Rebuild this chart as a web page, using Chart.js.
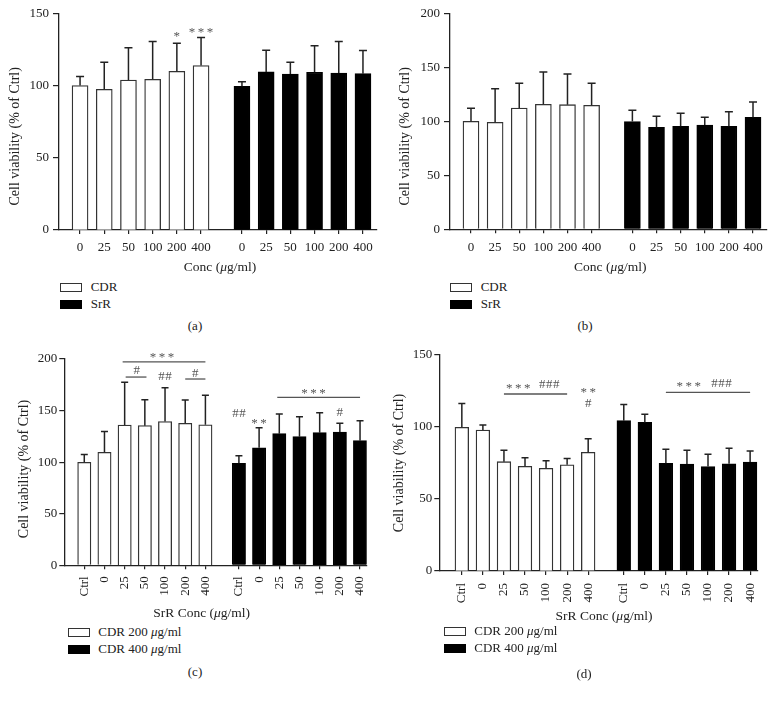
<!DOCTYPE html>
<html>
<head>
<meta charset="utf-8">
<script src="https://cdn.jsdelivr.net/npm/chart.js@4.4.1/dist/chart.umd.min.js"></script>
<style>
body { margin: 0; background: #fff; font-family: "Liberation Serif", "Times New Roman", serif; color: #222; }
#fig { position: relative; width: 783px; height: 701px; overflow: hidden; }
canvas { position: absolute; }
.sw { position: absolute; width: 20px; height: 7px; border: 1.2px solid #333; }
.lt { position: absolute; font-size: 13px; line-height: 16px; white-space: nowrap; }
.pl { position: absolute; font-size: 13px; transform: translate(-50%, -50%); }
</style>
</head>
<body>
<div id="fig">
  <canvas id="ca" width="390" height="275" style="left:0;top:0"></canvas>
  <canvas id="cb" width="393" height="275" style="left:390px;top:0"></canvas>
  <canvas id="cc" width="390" height="282" style="left:0;top:340px"></canvas>
  <canvas id="cd" width="393" height="284" style="left:390px;top:340px"></canvas>
</div>
<script>
// tick labels / legend names
const concAB = ['0', '25', '50', '100', '200', '400'];
const concCD = ['Ctrl', '0', '25', '50', '100', '200', '400'];
const namesAB = ['CDR', 'SrR'];
const namesCD = ['CDR 200 μg/ml', 'CDR 400 μg/ml'];
const panelTags = ['(a)', '(b)', '(c)', '(d)'];

// (a) values, mean and SD
const aCdr = [100, 97.4, 103.8, 104.3, 109.8, 113.8];
const aCdrSd = [6.2, 18.7, 22.3, 26.1, 19.4, 19.4];
const aSrr = [99.5, 109.4, 108, 109.2, 108.7, 108.2];
const aSrrSd = [3.2, 15, 8.1, 18.4, 21.7, 16];

// (b)
const bCdr = [100, 99.1, 112.3, 115.7, 115.4, 114.8];
const bCdrSd = [12, 31.1, 22.9, 30, 28.4, 20.4];
const bSrr = [99.7, 94.4, 95.4, 96.6, 95.4, 103.7];
const bSrrSd = [10.5, 10.2, 12, 7.1, 13.5, 14.2];

// (c)
const cLow = [99.8, 109.5, 136, 135.4, 139.3, 137.6, 136.3];
const cLowSd = [7.5, 20.1, 41.4, 25.2, 32.9, 22.7, 28.5];
const cHigh = [98.9, 114, 127.6, 124.7, 128.6, 129.2, 120.8];
const cHighSd = [7.4, 19.4, 19.1, 19.4, 19.4, 8.4, 19.4];

// (d)
const dLow = [99.8, 97.9, 75.9, 72.7, 71.3, 73.8, 82.4];
const dLowSd = [16.6, 3.5, 7.9, 6, 5.3, 4.4, 9.5];
const dHigh = [104.4, 103.2, 74.8, 74.3, 72.5, 74.5, 75.7];
const dHighSd = [11.3, 5.6, 9.7, 9.5, 8.5, 10.7, 7.6];

// significance marks: group, bar index, y value, text
const marksA = [
    { g: 0, at: 4, y: 135.3, t: '*' },
    { g: 0, at: 5, y: 137.8, t: '***' }
];
const marksC = [
    { g: 0, at: 3.85, y: 202.9, t: '***' },
    { g: 0, at: 2.6, y: 188.3, t: '#' },
    { g: 0, at: 4, y: 182.8, t: '##' },
    { g: 0, at: 5.5, y: 186, t: '#' },
    { g: 1, at: 3.7, y: 168.3, t: '***' },
    { g: 1, at: 0, y: 147.3, t: '##' },
    { g: 1, at: 1, y: 139.2, t: '**' },
    { g: 1, at: 5, y: 148.3, t: '#' }
];
const barsC = [
    { g: 0, from: 1.9, to: 6, y: 197.3 },
    { g: 0, from: 2.05, to: 3.08, y: 182.5 },
    { g: 0, from: 5, to: 6, y: 180.6 },
    { g: 1, from: 1.9, to: 6, y: 162.8 }
];
const marksD = [
    { g: 0, at: 2.68, y: 128, t: '***' },
    { g: 0, at: 4.15, y: 129.2, t: '###' },
    { g: 0, at: 6, y: 125.2, t: '**' },
    { g: 0, at: 6, y: 116.5, t: '#' },
    { g: 1, at: 3.09, y: 129.2, t: '***' },
    { g: 1, at: 4.64, y: 130.3, t: '###' }
];
const barsD = [
    { g: 0, from: 2, to: 5, y: 122.9 },
    { g: 1, from: 2, to: 6, y: 124.1 }
];

const FONT = '"Liberation Serif", "Times New Roman", serif';
const INK = '#222';
const MARK = '#555';

const panels = [
    { id: 'ca', left: 0, top: 0, labels: concAB, names: namesAB, means: [aCdr, aSrr], sds: [aCdrSd, aSrrSd],
      ymax: 150, pad: { left: 0, top: 13.3, right: 13, bottom: 0 }, yW: 59, xH: 45,
      xmin: -0.87, xmax: 12.27, g2: 6.69, bar: 16, cap: 4, rot: 0, yTick: [6, 4], xTick: [4, 6],
      xTitle: 'Conc (μg/ml)', xTitleAt: [220, 267.2], yTitleAt: [15, 136.3],
      marks: marksA, lines: [], legend: [60, 283.3, 90.7], tag: [195, 326] },
    { id: 'cb', left: 390, top: 0, labels: concAB, names: namesAB, means: [bCdr, bSrr], sds: [bCdrSd, bSrrSd],
      ymax: 200, pad: { left: 0, top: 13.3, right: 16, bottom: 0 }, yW: 60, xH: 45.7,
      xmin: -0.87, xmax: 12.27, g2: 6.69, bar: 16, cap: 4, rot: 0, yTick: [6, 4], xTick: [4, 6],
      xTitle: 'Conc (μg/ml)', xTitleAt: [220.3, 267.7], yTitleAt: [15, 136.3],
      marks: [], lines: [], legend: [450, 283.3, 480.7], tag: [585, 326] },
    { id: 'cc', left: 0, top: 340, labels: concCD, names: namesCD, means: [cLow, cHigh], sds: [cLowSd, cHighSd],
      ymax: 200, pad: { left: 0, top: 19, right: 23.3, bottom: 0 }, yW: 64.3, xH: 56.7,
      xmin: -0.99, xmax: 13.99, g2: 7.66, bar: 13.3, cap: 3.5, rot: 90, yTick: [5, 2], xTick: [4, 7],
      xTitle: 'SrR Conc (μg/ml)', xTitleAt: [201.7, 273.3], yTitleAt: [24, 129],
      marks: marksC, lines: barsC, legend: [68.3, 628.3, 98.3], tag: [195, 672] },
    { id: 'cd', left: 390, top: 340, labels: concCD, names: namesCD, means: [dLow, dHigh], sds: [dLowSd, dHighSd],
      ymax: 150, pad: { left: 0, top: 15, right: 25.3, bottom: 0 }, yW: 49.3, xH: 53,
      xmin: -1.07, xmax: 14.05, g2: 7.69, bar: 13.7, cap: 3.5, rot: 90, yTick: [5, 2], xTick: [4, 8],
      xTitle: 'SrR Conc (μg/ml)', xTitleAt: [214, 276], yTitleAt: [9, 123],
      marks: marksD, lines: barsD, legend: [444.3, 627.3, 474.3], tag: [584, 674] }
];

function pos(p, g, i) {
    return g === 0 ? i : p.g2 + i;
}

// draws text where the character μ is set in italics
function mixedText(ctx, text, cx, cy, size) {
    const parts = text.split('μ');
    const pieces = [];
    parts.forEach((s, k) => {
        if (k > 0) pieces.push({ s: 'μ', f: 'italic ' + size + 'px ' + FONT });
        if (s) pieces.push({ s: s, f: size + 'px ' + FONT });
    });
    let total = 0;
    pieces.forEach(pc => { ctx.font = pc.f; pc.w = ctx.measureText(pc.s).width; total += pc.w; });
    let x = cx - total / 2;
    ctx.textAlign = 'left';
    ctx.textBaseline = 'middle';
    pieces.forEach(pc => { ctx.font = pc.f; ctx.fillText(pc.s, x, cy); x += pc.w; });
}

const extras = {
    id: 'extras',
    afterDatasetsDraw(chart) {
        const p = chart.options.plugins.extras.panel;
        const ctx = chart.ctx;
        const xs = chart.scales.x, ys = chart.scales.y;
        ctx.save();
        // error bars (upper half only)
        ctx.strokeStyle = INK;
        ctx.lineWidth = 1.5;
        p.means.forEach((vals, g) => {
            vals.forEach((v, i) => {
                const x = xs.getPixelForValue(pos(p, g, i));
                const y0 = ys.getPixelForValue(v);
                const y1 = ys.getPixelForValue(v + p.sds[g][i]);
                ctx.beginPath();
                ctx.moveTo(x, y0);
                ctx.lineTo(x, y1);
                ctx.moveTo(x - p.cap, y1);
                ctx.lineTo(x + p.cap, y1);
                ctx.stroke();
            });
        });
        // significance lines and marks
        ctx.strokeStyle = MARK;
        ctx.lineWidth = 1.3;
        p.lines.forEach(l => {
            const y = ys.getPixelForValue(l.y);
            ctx.beginPath();
            ctx.moveTo(xs.getPixelForValue(pos(p, l.g, l.from)), y);
            ctx.lineTo(xs.getPixelForValue(pos(p, l.g, l.to)), y);
            ctx.stroke();
        });
        ctx.fillStyle = MARK;
        ctx.textAlign = 'center';
        ctx.textBaseline = 'middle';
        ctx.font = '13px ' + FONT;
        p.marks.forEach(m => {
            const x = xs.getPixelForValue(pos(p, m.g, m.at));
            let y = ys.getPixelForValue(m.y);
            let gap = 0.5;
            if (m.t[0] === '*') { y += 2; gap = 2.5; }
            ctx.letterSpacing = gap + 'px';
            ctx.fillText(m.t, x + gap / 2, y);
        });
        ctx.letterSpacing = '0px';
        // axis titles
        ctx.fillStyle = INK;
        mixedText(ctx, p.xTitle, p.xTitleAt[0], p.xTitleAt[1], 13.5);
        ctx.translate(p.yTitleAt[0], p.yTitleAt[1]);
        ctx.rotate(-Math.PI / 2);
        ctx.font = '14px ' + FONT;
        ctx.textAlign = 'center';
        ctx.textBaseline = 'middle';
        ctx.fillText('Cell viability (% of Ctrl)', 0, 0);
        ctx.restore();
    }
};

function makeChart(p) {
    const tickPos = [];
    const tickLab = [];
    p.means.forEach((vals, g) => vals.forEach((v, i) => {
        tickPos.push(pos(p, g, i));
        tickLab.push(p.labels[i]);
    }));
    const datasets = p.means.map((vals, g) => ({
        label: p.names[g],
        data: vals.map((v, i) => ({ x: pos(p, g, i), y: v })),
        backgroundColor: g === 0 ? '#fff' : '#000',
        borderColor: g === 0 ? '#333' : '#000',
        borderWidth: 1.3,
        barThickness: p.bar,
        grouped: false
    }));
    return new Chart(document.getElementById(p.id), {
        type: 'bar',
        data: { datasets: datasets },
        plugins: [extras],
        options: {
            responsive: false,
            animation: false,
            layout: { padding: p.pad },
            plugins: {
                legend: { display: false },
                tooltip: { enabled: false },
                extras: { panel: p }
            },
            scales: {
                x: {
                    type: 'linear',
                    min: p.xmin,
                    max: p.xmax,
                    offset: false,
                    afterFit: s => { s.height = p.xH; },
                    afterBuildTicks: s => { s.ticks = tickPos.map(v => ({ value: v })); },
                    grid: { drawOnChartArea: false, offset: false, tickLength: p.xTick[0], color: INK, lineWidth: 1.2 },
                    border: { color: INK, width: 1.3 },
                    ticks: {
                        autoSkip: false,
                        padding: p.xTick[1],
                        minRotation: p.rot,
                        maxRotation: p.rot,
                        color: INK,
                        font: { family: FONT, size: 13 },
                        callback: (v, i) => tickLab[i]
                    }
                },
                y: {
                    min: 0,
                    max: p.ymax,
                    afterFit: s => { s.width = p.yW; },
                    grid: { drawOnChartArea: false, tickLength: p.yTick[0], color: INK, lineWidth: 1.2 },
                    border: { color: INK, width: 1.3 },
                    ticks: {
                        stepSize: 50,
                        padding: p.yTick[1],
                        color: INK,
                        font: { family: FONT, size: 13 }
                    }
                }
            }
        }
    });
}

function makeLegend(p) {
    const fig = document.getElementById('fig');
    p.names.forEach((n, g) => {
        const top = p.legend[1] + g * 16.7;
        const sw = document.createElement('div');
        sw.className = 'sw';
        sw.style.left = p.legend[0] + 'px';
        sw.style.top = top + 'px';
        sw.style.background = g === 0 ? '#fff' : '#000';
        sw.style.borderColor = g === 0 ? '#333' : '#000';
        fig.appendChild(sw);
        const t = document.createElement('div');
        t.className = 'lt';
        t.style.left = p.legend[2] + 'px';
        t.style.top = (top - 4) + 'px';
        t.innerHTML = n.replace('μ', '<i>μ</i>');
        fig.appendChild(t);
    });
}

panels.forEach((p, k) => {
    makeChart(p);
    makeLegend(p);
    const tag = document.createElement('div');
    tag.className = 'pl';
    tag.style.left = p.tag[0] + 'px';
    tag.style.top = p.tag[1] + 'px';
    tag.textContent = panelTags[k];
    document.getElementById('fig').appendChild(tag);
});
</script>
</body>
</html>
